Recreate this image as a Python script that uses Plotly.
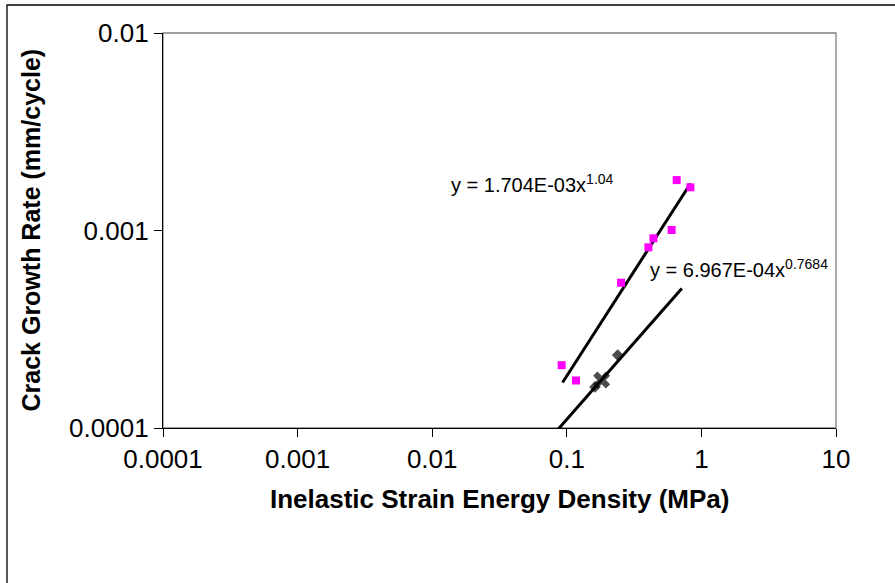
import plotly.graph_objects as go

# Data
pink_x = [0.655, 0.828, 0.601, 0.440, 0.404, 0.253, 0.0916, 0.117]
pink_y = [0.00180, 0.001655, 0.001006, 0.000913, 0.000822, 0.000544, 0.000208, 0.000174]

black_x = [0.239, 0.1815, 0.162]
black_y = [0.000234, 0.000175, 0.0001614]
black_symbols = ["diamond", "x", "diamond"]

trend1_x = [0.093, 0.83]
trend1_y = [0.000170, 0.00173]
trend2_x = [0.085, 0.715]
trend2_y = [0.0000975, 0.000509]

x_ticks = [0.0001, 0.001, 0.01, 0.1, 1, 10]
x_ticklabels = ["0.0001", "0.001", "0.01", "0.1", "1", "10"]
y_ticks = [0.0001, 0.001, 0.01]
y_ticklabels = ["0.0001", "0.001", "0.01"]

eq1 = "y = 1.704E-03x<sup>1.04</sup>"
eq2 = "y = 6.967E-04x<sup>0.7684</sup>"
x_title = "Inelastic Strain Energy Density (MPa)"
y_title = "Crack Growth Rate (mm/cycle)"

FONT = "Liberation Sans, Arial, sans-serif"

fig = go.Figure()
fig.add_trace(go.Scatter(x=trend1_x, y=trend1_y, mode="lines",
                         line=dict(color="black", width=3), showlegend=False, hoverinfo="skip"))
fig.add_trace(go.Scatter(x=trend2_x, y=trend2_y, mode="lines",
                         line=dict(color="black", width=3), showlegend=False, hoverinfo="skip"))
fig.add_trace(go.Scatter(x=pink_x, y=pink_y, mode="markers",
                         marker=dict(symbol="square", size=8, color="#FF00FF"), showlegend=False))
fig.add_trace(go.Scatter(x=black_x, y=black_y, mode="markers",
                         marker=dict(symbol=black_symbols, size=[9, 15, 9], color="black",
                                     line=dict(width=0)), showlegend=False))

L, R, T, B = 163, 836, 33, 428
W, H = 895, 583

def px(xp):
    return (xp - L) / (R - L)

def py(yp):
    return (B - yp) / (B - T)

# outer chart border (left/top visible)
fig.add_shape(type="rect", xref="paper", yref="paper",
              x0=px(7), x1=px(905), y0=py(595), y1=py(5),
              line=dict(color="black", width=1.3), layer="below")
# plot area border (gray)
fig.add_shape(type="rect", xref="paper", yref="paper",
              x0=0, x1=1, y0=0, y1=1,
              line=dict(color="#808080", width=1.3), layer="below")

fig.add_annotation(text=eq1, xref="paper", yref="paper", x=px(449), y=py(183),
                   xanchor="left", yanchor="middle", showarrow=False,
                   font=dict(family=FONT, size=20, color="black"))
fig.add_annotation(text=eq2, xref="paper", yref="paper", x=px(648), y=py(268),
                   xanchor="left", yanchor="middle", showarrow=False,
                   font=dict(family=FONT, size=20, color="black"))
fig.add_annotation(text=f"<b>{x_title}</b>", xref="paper", yref="paper", x=0.5, y=py(499),
                   xanchor="center", yanchor="middle", showarrow=False,
                   font=dict(family=FONT, size=26, color="black"))
fig.add_annotation(text=f"<b>{y_title}</b>", xref="paper", yref="paper", x=px(30), y=0.5,
                   xanchor="center", yanchor="middle", showarrow=False, textangle=-90,
                   font=dict(family=FONT, size=25, color="black"))

fig.update_xaxes(type="log", range=[-4, 1], tickvals=x_ticks, ticktext=x_ticklabels,
                 showgrid=False, zeroline=False, showline=True, linecolor="black", linewidth=1.3,
                 ticks="outside", ticklen=8, tickcolor="black", tickwidth=1,
                 tickfont=dict(family=FONT, size=26, color="black"))
fig.update_yaxes(type="log", range=[-4, -2], tickvals=y_ticks, ticktext=y_ticklabels,
                 showgrid=False, zeroline=False, showline=True, linecolor="black", linewidth=1.3,
                 ticks="outside", ticklen=8, tickcolor="black", tickwidth=1,
                 tickfont=dict(family=FONT, size=26, color="black"))

fig.update_layout(width=W, height=H, margin=dict(l=L, r=W - R, t=T, b=H - B),
                  paper_bgcolor="white", plot_bgcolor="white",
                  font=dict(family=FONT, color="black"))

fig.write_html("out.html")
